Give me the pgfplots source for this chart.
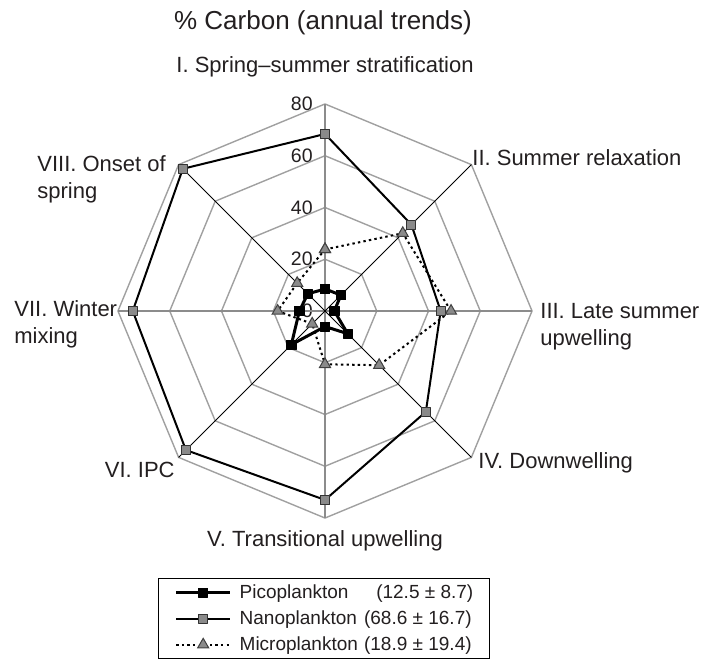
\documentclass[border=0pt]{standalone}
\usepackage{fontspec}
\setmainfont{Liberation Sans}
\usepackage{pgfplots}
\pgfplotsset{compat=1.18}
\definecolor{ringgray}{HTML}{A0A0A0}
\definecolor{spokegray}{HTML}{8C8C8C}
\definecolor{markgray}{HTML}{8A8A8A}
\definecolor{txt}{HTML}{231F20}
\pgfplotsset{
  ring/.style={data cs=polar, ringgray, line width=0.7pt, forget plot, mark=none},
  ospoke/.style={data cs=polar, spokegray, line width=0.8pt, forget plot, mark=none},
  dspoke/.style={data cs=polar, black, line width=0.45pt, forget plot, mark=none},
  pico/.style={data cs=polar, black, line width=1.5pt, line join=round, mark=square*, mark size=2.3pt, mark options={solid, fill=black, draw=black, line width=0.4pt}},
  nano/.style={data cs=polar, black, line width=1pt, line join=round, mark=square*, mark size=2.3pt, mark options={solid, fill=markgray, draw=black!80, line width=0.5pt}},
  micro/.style={data cs=polar, black, line width=1pt, dash pattern=on 1.2pt off 1.6pt, mark=triangle*, mark size=3.2pt, mark options={solid, fill=markgray, draw=black!75, line width=0.5pt}},
}
\begin{document}
\begin{tikzpicture}
\begin{scope}[x=0.5pt,y=-0.5pt, every node/.style={text=txt, inner sep=0pt}]
\path[use as bounding box] (0,0) rectangle (720,658);
% title and category labels
\node[anchor=base, font=\fontsize{13}{15.6}\selectfont] at (323,29) {\% Carbon (annual trends)};
\node[anchor=base, font=\fontsize{11}{13.2}\selectfont] at (325,72) {I. Spring–summer stratification};
\node[anchor=base west, font=\fontsize{11}{13.2}\selectfont] at (472,165) {II. Summer relaxation};
\node[anchor=base west, font=\fontsize{11}{13.2}\selectfont] at (540,318) {III. Late summer};
\node[anchor=base west, font=\fontsize{11}{13.2}\selectfont] at (540,345) {upwelling};
\node[anchor=base west, font=\fontsize{11}{13.2}\selectfont] at (478,468) {IV. Downwelling};
\node[anchor=base, font=\fontsize{11}{13.2}\selectfont] at (325,546) {V. Transitional upwelling};
\node[anchor=base east, font=\fontsize{11}{13.2}\selectfont] at (175,477) {VI. IPC};
\node[anchor=base west, font=\fontsize{11}{13.2}\selectfont] at (14,316) {VII. Winter};
\node[anchor=base west, font=\fontsize{11}{13.2}\selectfont] at (14,343) {mixing};
\node[anchor=base west, font=\fontsize{11}{13.2}\selectfont] at (37,171) {VIII. Onset of};
\node[anchor=base west, font=\fontsize{11}{13.2}\selectfont] at (37,198) {spring};
% radial tick labels
\node[anchor=east, font=\fontsize{9.75}{11}\selectfont] at (313,311) {0};
\node[anchor=east, font=\fontsize{9.75}{11}\selectfont] at (313,259.25) {20};
\node[anchor=east, font=\fontsize{9.75}{11}\selectfont] at (313,207.5) {40};
\node[anchor=east, font=\fontsize{9.75}{11}\selectfont] at (313,155.75) {60};
\node[anchor=east, font=\fontsize{9.75}{11}\selectfont] at (313,104) {80};
\end{scope}
\begin{axis}[
  at={(162.5pt,-155.5pt)}, anchor=origin,
  x=1.294pt, y=1.294pt,
  xmin=-85, xmax=85, ymin=-85, ymax=85,
  hide axis, clip=false,
  legend style={at={(0.1204,-0.1069)}, anchor=north west, draw=black, line width=0.7pt,
    font=\fontsize{9.5}{11.4}\selectfont, text=txt, inner xsep=8pt, inner ysep=0.5pt, row sep=0pt,
    nodes={inner xsep=0pt, inner ysep=0pt, minimum height=13pt}},
  legend cell align=left,
  legend image code/.code={\draw[mark repeat=2,mark phase=2,#1] plot coordinates {(0pt,0pt) (13.5pt,0pt) (27pt,0pt)};},
]
% octagonal grid rings
\addplot[ring] coordinates {(90,20) (45,20) (0,20) (-45,20) (-90,20) (-135,20) (180,20) (135,20) (90,20)};
\addplot[ring] coordinates {(90,40) (45,40) (0,40) (-45,40) (-90,40) (-135,40) (180,40) (135,40) (90,40)};
\addplot[ring] coordinates {(90,60) (45,60) (0,60) (-45,60) (-90,60) (-135,60) (180,60) (135,60) (90,60)};
\addplot[ring] coordinates {(90,80) (45,80) (0,80) (-45,80) (-90,80) (-135,80) (180,80) (135,80) (90,80)};
% spokes
\addplot[ospoke] coordinates {(90,0) (90,80)};
\addplot[ospoke] coordinates {(0,0) (0,80)};
\addplot[ospoke] coordinates {(-90,0) (-90,80)};
\addplot[ospoke] coordinates {(180,0) (180,80)};
\addplot[dspoke] coordinates {(45,0) (45,80)};
\addplot[dspoke] coordinates {(-45,0) (-45,80)};
\addplot[dspoke] coordinates {(-135,0) (-135,80)};
\addplot[dspoke] coordinates {(135,0) (135,80)};
% data series (angle, value)
\addplot[pico] coordinates {(90,8.5) (45,8.7) (0,3.6) (-45,12.4) (-90,6.0) (-135,18.4) (180,9.9) (135,9.4) (90,8.5)};
\addlegendentry{\hspace{4pt}\makebox[68.3pt][l]{Picoplankton}(12.5 ± 8.7)}
\addplot[nano] coordinates {(90,68.4) (45,47.2) (0,44.7) (-45,55.1) (-90,73.0) (-135,76.0) (180,74.3) (135,77.7) (90,68.4)};
\addlegendentry{\hspace{4pt}\makebox[62.2pt][l]{Nanoplankton}(68.6 ± 16.7)}
\addplot[micro] coordinates {(90,23.8) (45,42.5) (0,48.7) (-45,29.6) (-90,20.6) (-135,7.0) (180,18.3) (135,15.2) (90,23.8)};
\addlegendentry{\hspace{4pt}\makebox[62.2pt][l]{Microplankton}(18.9 ± 19.4)}
\end{axis}
\end{tikzpicture}
\end{document}
